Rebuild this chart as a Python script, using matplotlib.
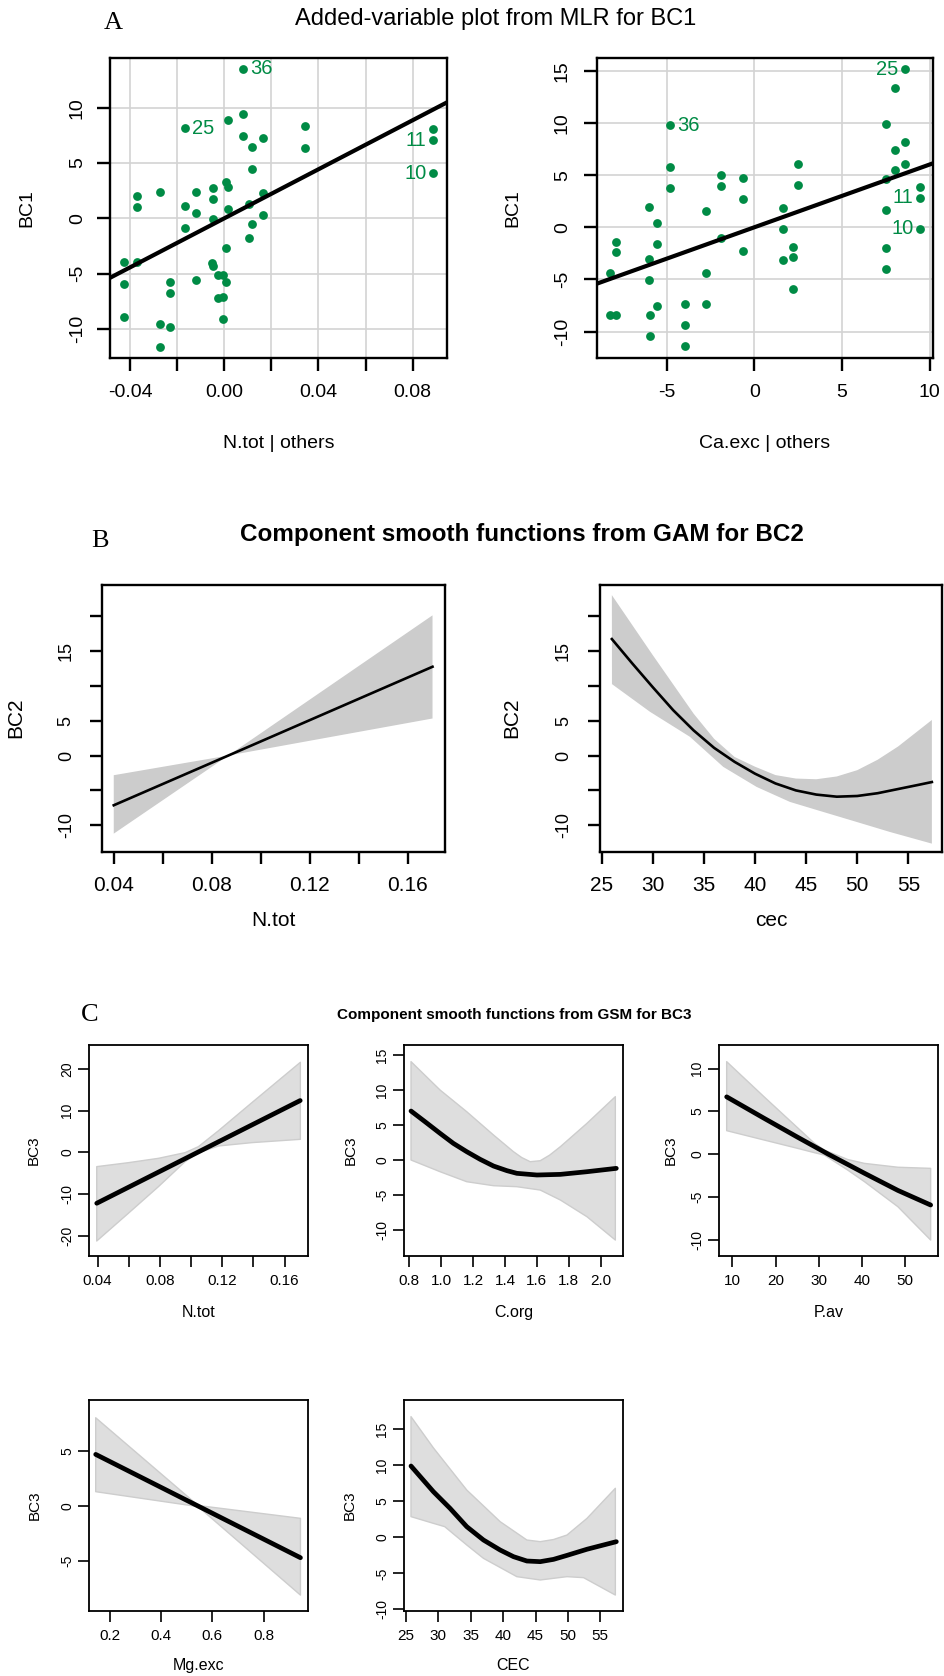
import numpy as np
import matplotlib
matplotlib.use('Agg')
import matplotlib.pyplot as plt
from matplotlib import font_manager as fm

# ---------------- data ----------------
# Panel A (added-variable plots)
a1_x = [0.0079, -0.0168, 0.0017, 0.0079, 0.0079, 0.0163, 0.0120, 0.0342, 0.0342, 0.0888,
        0.0888, 0.0888, 0.0120, -0.0370, -0.0370, -0.0273, -0.0168, -0.0119, -0.0119, -0.0048,
        -0.0048, -0.0048, 0.0006, 0.0017, 0.0017, -0.0168, 0.0106, 0.0163, 0.0163, 0.0120,
        0.0106, 0.0006, -0.0427, -0.0370, -0.0427, -0.0232, -0.0232, -0.0119, -0.0051, -0.0048,
        -0.0028, -0.0006, 0.0006, -0.0028, -0.0006, -0.0006, -0.0427, -0.0273, -0.0232, -0.0273]
a1_y = [13.5, 8.13, 8.86, 9.46, 7.47, 7.26, 6.45, 8.34, 6.36, 8.04,
        7.05, 4.07, 4.46, 2.02, 0.99, 2.41, 1.08, 2.41, 0.45, 2.77,
        1.75, -0.06, 3.25, 2.83, 0.84, -0.90, 1.30, 2.32, 0.27, -0.54,
        -1.75, -2.71, -3.92, -3.98, -5.93, -5.78, -6.78, -5.57, -4.07, -4.28,
        -5.15, -5.15, -5.75, -7.17, -7.11, -9.13, -8.92, -9.55, -9.79, -11.60]
a1_labels = {0: ('36', 'right'), 1: ('25', 'right'), 10: ('11', 'left'), 11: ('10', 'left')}
a1_slope, a1_intercept = 110.8, 0.0

a2_x = [8.61, 8.00, 7.53, -4.79, 8.61, 8.00, 8.61, 8.00, 7.53, 9.47,
        9.47, 7.53, 9.47, 7.53, 7.53, 2.51, 2.51, 1.63, 1.63, 2.21,
        2.21, 1.63, 2.21, -0.65, -0.65, -0.65, -1.90, -1.90, -1.90, -2.74,
        -2.74, -2.74, -4.79, -4.79, -3.97, -3.97, -3.97, -6.03, -5.55, -5.55,
        -6.03, -6.03, -5.55, -5.93, -5.93, -7.91, -7.91, -8.23, -8.23, -7.91]
a2_y = [15.15, 13.39, 9.95, 9.76, 8.13, 7.43, 6.09, 5.45, 4.59, 3.86,
        2.84, 1.63, -0.13, -2.01, -4.02, 6.06, 4.05, 1.82, -0.19, -1.85,
        -2.87, -3.16, -5.87, 4.75, 2.74, -2.26, 4.97, 3.99, -0.99, 1.59,
        -4.40, -7.40, 5.74, 3.73, -7.40, -9.41, -11.42, 1.91, 0.45, -1.56,
        -3.06, -5.10, -7.56, -8.39, -10.40, -1.40, -2.39, -4.37, -8.39, -8.39]
a2_labels = {0: ('25', 'left'), 3: ('36', 'right'), 10: ('11', 'left'), 12: ('10', 'left')}
a2_slope, a2_intercept = 0.602, 0.0

# Panel B (GAM smooths)
b1_x = [0.04, 0.0868, 0.1702]
b1_fit = [-7.13, 0.0, 12.73]
b1_up = [-2.82, 0.0, 20.1]
b1_lo = [-11.2, 0.0, 5.31]

b2_x = [26.0, 28, 30, 32, 34, 36, 38, 40, 42, 44, 46, 48, 50, 52, 54, 56, 57.3]
b2_fit = [16.7, 13.2, 9.8, 6.5, 3.6, 1.1, -0.9, -2.6, -4.0, -5.0, -5.6, -5.9, -5.8, -5.4, -4.8, -4.2, -3.8]
b2_up_x = [26.0, 28, 30, 32, 34, 36, 38, 40, 42, 44, 46, 48, 50, 52, 54, 56, 57.3]
b2_up = [23.0, 18.7, 14.4, 10.2, 6.0, 2.4, -0.2, -1.6, -2.8, -3.3, -3.4, -3.0, -2.1, -0.6, 1.3, 3.6, 5.1]
b2_lo_x = [26.01, 29.73, 33.64, 36.9, 40.16, 43.42, 46.68, 49.94, 53.2, 57.3]
b2_lo = [10.24, 6.27, 2.68, -1.63, -4.5, -6.65, -8.09, -9.52, -10.96, -12.63]

# Panel C (GSM smooths)
c1_x = [0.0394, 0.170]
c1_fit = [-12.2, 12.4]
c1_band_x = [0.0394, 0.0597, 0.0790, 0.0961, 0.1047, 0.1176, 0.1390, 0.1701]
c1_up = [-3.43, -2.48, -1.44, -0.08, 1.36, 5.19, 11.9, 21.56]
c1_lo = [-21.24, -14.6, -8.22, -2.24, -0.08, 1.52, 2.32, 3.11]

c2_x = [0.8105, 0.898, 0.9927, 1.076, 1.160, 1.244, 1.328, 1.412, 1.474, 1.600, 1.747, 1.914, 2.098]
c2_fit = [7.0, 5.48, 3.81, 2.38, 1.19, 0.10, -0.86, -1.52, -1.9, -2.14, -2.05, -1.67, -1.19]
c2_up_x = [0.8105, 0.9927, 1.160, 1.328, 1.453, 1.505, 1.558, 1.621, 1.68, 1.747, 1.914, 2.092]
c2_up = [14.05, 10.0, 6.9, 3.57, 1.19, 0.35, -0.24, -0.1, 0.7, 1.9, 5.24, 9.05]
c2_lo_x = [0.8105, 0.9927, 1.160, 1.328, 1.474, 1.621, 1.747, 1.914, 2.092]
c2_lo = [0.0, -1.67, -3.1, -3.67, -3.81, -4.29, -5.71, -8.1, -11.43]

c3_x = [8.68, 17.35, 25.09, 32.28, 40.56, 48.30, 55.88]
c3_fit = [6.7, 4.2, 2.0, 0.0, -2.2, -4.2, -5.9]
c3_band_x = [8.68, 17.35, 25.09, 28.96, 31.28, 36.69, 40.56, 48.30, 55.88]
c3_up = [10.8, 6.7, 3.1, 1.3, 0.5, -0.6, -1.05, -1.5, -1.63]
c3_lo = [2.76, 1.67, 0.7, 0.2, -0.08, -1.83, -3.18, -6.1, -9.98]

c4_x = [0.144, 0.544, 0.944]
c4_fit = [4.71, 0.0, -4.71]
c4_up = [8.05, 0.05, -1.12]
c4_lo = [1.31, -0.05, -8.12]

c5_x = [25.77, 29.23, 31.80, 34.38, 36.96, 39.54, 41.60, 43.66, 45.72, 47.78, 49.85, 52.94, 57.47]
c5_fit = [9.89, 6.33, 4.02, 1.48, -0.37, -1.76, -2.68, -3.28, -3.37, -3.05, -2.5, -1.65, -0.6]
c5_up_x = [25.77, 29.23, 34.38, 39.54, 43.66, 45.72, 47.78, 49.85, 52.94, 57.32]
c5_up = [16.73, 12.4, 6.56, 2.17, -0.37, -0.6, -0.3, 0.32, 2.63, 6.8]
c5_lo_x = [25.77, 29.23, 30.98, 34.38, 36.96, 42.11, 45.72, 49.85, 52.42, 57.32]
c5_lo = [2.87, 1.94, 1.48, -1.06, -2.91, -5.45, -5.91, -5.45, -5.59, -8.0]

# ---------------- fonts ----------------
names = {f.name for f in fm.fontManager.ttflist}
SANS = 'Liberation Sans' if 'Liberation Sans' in names else 'DejaVu Sans'
NARROW = 'Liberation Sans Narrow' if 'Liberation Sans Narrow' in names else SANS
SERIF = 'Liberation Serif' if 'Liberation Serif' in names else 'DejaVu Serif'
plt.rcParams['font.family'] = [SANS, 'DejaVu Sans']

GREEN = '#008B45'
W, H = 944, 1676
fig = plt.figure(figsize=(W / 100, H / 100), dpi=100)


def px_axes(l, r, t, b):
    return fig.add_axes([l / W, 1 - b / H, (r - l) / W, (b - t) / H])


def ftext(x, y, s, **kw):
    kw.setdefault('ha', 'center')
    kw.setdefault('va', 'center')
    fig.text(x / W, 1 - y / H, s, **kw)


def style(ax, xticks, xlabs, yticks, ylabs, xfs, yfs, xfont, yfont,
          ticklen, tickw, xpad, ypad, boxw):
    ax.set_xticks(xticks, labels=xlabs, fontsize=xfs, family=xfont)
    ax.set_yticks(yticks, labels=ylabs, fontsize=yfs, family=yfont,
                  rotation=90, va='center')
    ax.tick_params(axis='x', direction='out', length=ticklen, width=tickw, pad=xpad)
    ax.tick_params(axis='y', direction='out', length=ticklen, width=tickw, pad=ypad)
    for s in ax.spines.values():
        s.set_linewidth(boxw)


def band(ax, xu, yu, xl, yl, fc, ec=None, lw=0):
    ax.fill(np.r_[xu, np.asarray(xl)[::-1]], np.r_[yu, np.asarray(yl)[::-1]],
            facecolor=fc, edgecolor=ec if ec else 'none', lw=lw, zorder=1,
            joinstyle='round')


# ---------------- Panel A ----------------
def av_panel(ax, xs, ys, labels, slope, icpt, xlim, ylim):
    ax.set_xlim(*xlim)
    ax.set_ylim(*ylim)
    ax.grid(True, color='#d3d3d3', lw=1.2)
    ax.set_axisbelow(True)
    ax.scatter(xs, ys, s=40, color=GREEN, zorder=3, linewidths=0)
    ax.axline((0, icpt), slope=slope, color='black', lw=3.0, zorder=4)
    for i, (lab, side) in labels.items():
        off = 5 if side == 'right' else -5
        ax.annotate(lab, (xs[i], ys[i]), xytext=(off, 0), textcoords='offset points',
                    ha='left' if side == 'right' else 'right', va='center',
                    color=GREEN, fontsize=14.5, zorder=5)


axA1 = px_axes(110, 447, 58, 358)
av_panel(axA1, a1_x, a1_y, a1_labels, a1_slope, a1_intercept, (-0.0485, 0.0946), (-12.62, 14.49))
style(axA1, [-0.04, -0.02, 0.0, 0.02, 0.04, 0.06, 0.08], ['-0.04', '', '0.00', '', '0.04', '', '0.08'],
      [-10, -5, 0, 5, 10], ['-10', '-5', '0', '5', '10'], 14, 14, SANS, SANS,
      9.4, 1.7, 9.5, 8, 1.7)

axA2 = px_axes(597, 933, 58, 358)
av_panel(axA2, a2_x, a2_y, a2_labels, a2_slope, a2_intercept, (-8.97, 10.19), (-12.53, 16.23))
style(axA2, [-5, 0, 5, 10], ['-5', '0', '5', '10'],
      [-10, -5, 0, 5, 10, 15], ['-10', '-5', '0', '5', '10', '15'], 14, 14, SANS, SANS,
      9.4, 1.7, 9.5, 9.4, 1.7)

ftext(113, 23, 'A', family=SERIF, fontsize=19)
ftext(496, 19, 'Added-variable plot from MLR for BC1', fontsize=17)
ftext(278.5, 443, 'N.tot | others', fontsize=14)
ftext(765, 443, 'Ca.exc | others', fontsize=14)
ftext(27, 208, 'BC1', fontsize=14, rotation=90)
ftext(513, 208, 'BC1', fontsize=14, rotation=90)

# ---------------- Panel B ----------------
axB1 = px_axes(102, 445, 585, 852)
axB1.set_xlim(0.0352, 0.1753)
axB1.set_ylim(-13.83, 24.45)
band(axB1, b1_x, b1_up, b1_x, b1_lo, '#cccccc')
axB1.plot(b1_x, b1_fit, color='black', lw=1.9, zorder=3)
style(axB1, [0.04, 0.06, 0.08, 0.10, 0.12, 0.14, 0.16], ['0.04', '', '0.08', '', '0.12', '', '0.16'],
      [-10, -5, 0, 5, 10, 15, 20], ['-10', '', '0', '5', '', '15', ''], 15, 13, SANS, SANS,
      8.6, 1.7, 9, 11, 1.7)

axB2 = px_axes(600, 942, 585, 852)
axB2.set_xlim(24.84, 58.29)
axB2.set_ylim(-13.83, 24.45)
band(axB2, b2_up_x, b2_up, b2_lo_x, b2_lo, '#cccccc')
axB2.plot(b2_x, b2_fit, color='black', lw=1.9, zorder=3, solid_joinstyle='round')
style(axB2, [25, 30, 35, 40, 45, 50, 55], ['25', '30', '35', '40', '45', '50', '55'],
      [-10, -5, 0, 5, 10, 15, 20], ['-10', '', '0', '5', '', '15', ''], 15, 13, SANS, SANS,
      8.6, 1.7, 9, 11.5, 1.7)

ftext(100, 541, 'B', family=SERIF, fontsize=19)
ftext(522, 535, 'Component smooth functions from GAM for BC2', fontsize=17.5, fontweight='bold')
ftext(273.5, 920, 'N.tot', fontsize=15)
ftext(771, 920, 'cec', fontsize=15)
ftext(16, 718, 'BC2', fontsize=15, rotation=90)
ftext(512, 718, 'BC2', fontsize=15, rotation=90)

# ---------------- Panel C ----------------
CFC, CEC = '#dedede', '#cdcdcd'
CLW = 3.4


def c_style(ax, xt, xl, yt, yl):
    style(ax, xt, xl, yt, yl, 11, 10, NARROW, NARROW, 8, 1.2, 5, 2.5, 1.3)


axC1 = px_axes(89, 308, 1045, 1256)
axC1.set_xlim(0.03443, 0.175)
axC1.set_ylim(-24.83, 25.7)
band(axC1, c1_band_x, c1_up, c1_band_x, c1_lo, CFC, CEC, 1.0)
axC1.plot(c1_x, c1_fit, color='black', lw=CLW, zorder=3, solid_capstyle='round')
c_style(axC1, [0.04, 0.06, 0.08, 0.10, 0.12, 0.14, 0.16], ['0.04', '', '0.08', '', '0.12', '', '0.16'],
        [-20, -10, 0, 10, 20], ['-20', '-10', '0', '10', '20'])

axC2 = px_axes(404, 623, 1045, 1256)
axC2.set_xlim(0.7665, 2.140)
axC2.set_ylim(-13.71, 16.43)
band(axC2, c2_up_x, c2_up, c2_lo_x, c2_lo, CFC, CEC, 1.0)
axC2.plot(c2_x, c2_fit, color='black', lw=CLW, zorder=3, solid_capstyle='round', solid_joinstyle='round')
c_style(axC2, [0.8, 1.0, 1.2, 1.4, 1.6, 1.8, 2.0], ['0.8', '1.0', '1.2', '1.4', '1.6', '1.8', '2.0'],
        [-10, -5, 0, 5, 10, 15], ['-10', '-5', '0', '5', '10', '15'])

axC3 = px_axes(719, 938, 1045, 1256)
axC3.set_xlim(6.905, 57.58)
axC3.set_ylim(-11.84, 12.74)
band(axC3, c3_band_x, c3_up, c3_band_x, c3_lo, CFC, CEC, 1.0)
axC3.plot(c3_x, c3_fit, color='black', lw=CLW, zorder=3, solid_capstyle='round', solid_joinstyle='round')
c_style(axC3, [10, 20, 30, 40, 50], ['10', '20', '30', '40', '50'],
        [-10, -5, 0, 5, 10], ['-10', '-5', '0', '5', '10'])

axC4 = px_axes(89, 308, 1400, 1611)
axC4.set_xlim(0.1178, 0.9735)
axC4.set_ylim(-9.57, 9.67)
band(axC4, c4_x, c4_up, c4_x, c4_lo, CFC, CEC, 1.0)
axC4.plot(c4_x, c4_fit, color='black', lw=CLW, zorder=3, solid_capstyle='round')
c_style(axC4, [0.2, 0.4, 0.6, 0.8], ['0.2', '0.4', '0.6', '0.8'],
        [-5, 0, 5], ['-5', '0', '5'])

axC5 = px_axes(404, 623, 1400, 1611)
axC5.set_xlim(24.69, 58.5)
axC5.set_ylim(-10.21, 19.04)
band(axC5, c5_up_x, c5_up, c5_lo_x, c5_lo, CFC, CEC, 1.0)
axC5.plot(c5_x, c5_fit, color='black', lw=CLW, zorder=3, solid_capstyle='round', solid_joinstyle='round')
c_style(axC5, [25, 30, 35, 40, 45, 50, 55], ['25', '30', '35', '40', '45', '50', '55'],
        [-10, -5, 0, 5, 10, 15], ['-10', '-5', '0', '5', '10', '15'])

ftext(90, 1015, 'C', family=SERIF, fontsize=19)
ftext(514, 1015, 'Component smooth functions from GSM for BC3', fontsize=11, fontweight='bold')
for ax, lab in [(axC1, 'N.tot'), (axC2, 'C.org'), (axC3, 'P.av')]:
    bb = ax.get_position()
    ftext((bb.x0 + bb.x1) / 2 * W, 1312, lab, fontsize=11.5, family=NARROW)
for ax, lab in [(axC4, 'Mg.exc'), (axC5, 'CEC')]:
    bb = ax.get_position()
    ftext((bb.x0 + bb.x1) / 2 * W, 1665, lab, fontsize=11.5, family=NARROW)
for x in (34, 351, 671):
    ftext(x, 1150, 'BC3', fontsize=11, family=NARROW, rotation=90)
for x in (35, 350):
    ftext(x, 1505, 'BC3', fontsize=11, family=NARROW, rotation=90)

fig.savefig('out.png', dpi=100)
